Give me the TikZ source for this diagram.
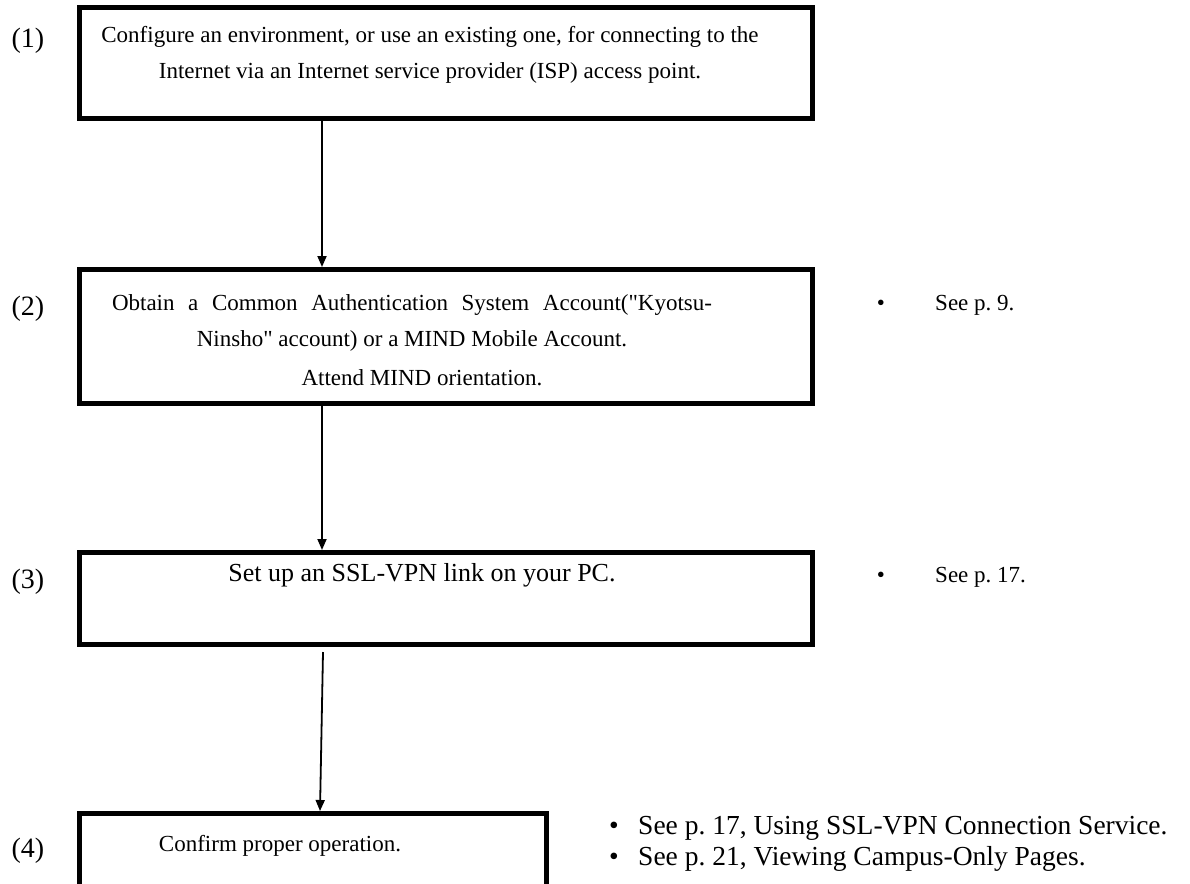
\documentclass[tikz,border=0pt]{standalone}
\usepackage{fontspec}
\setmainfont{Liberation Serif}
\newfontfamily\qfont{Liberation Serif}
\usetikzlibrary{arrows.meta}
\frenchspacing
\newcommand{\dq}{{\qfont\symbol{34}}}
\begin{document}
\begin{tikzpicture}[x=1pt,y=-1pt,
  box/.style={draw=black, line width=5pt, anchor=north west, inner sep=0pt},
  txt/.style={font=\fontsize{23}{27}\selectfont, inner sep=0pt, anchor=base},
  bigtxt/.style={font=\fontsize{26}{30}\selectfont, inner sep=0pt, anchor=base},
  note/.style={font=\fontsize{27.5}{31}\selectfont, inner sep=0pt, anchor=base west},
  num/.style={font=\fontsize{28}{32}\selectfont, inner sep=0pt, anchor=base},
  arr/.style={line width=1.8pt, -{Triangle[length=11pt,width=9pt]}}]
\path[use as bounding box, clip] (0,0) rectangle (1190,883);
\fill[white] (0,0) rectangle (1190,883);
% boxes
\node[box, minimum width=733pt, minimum height=111pt] (b1) at (77,5) {};
\node[box, minimum width=733pt, minimum height=134pt] (b2) at (77,267) {};
\node[box, minimum width=733pt, minimum height=92pt] (b3) at (77,550) {};
\node[box, minimum width=467pt, minimum height=100pt] (b4) at (77,811) {};
% step numbers
\node[num] (n1) at (28,48) {(1)};
\node[num] (n2) at (28,315) {(2)};
\node[num] (n3) at (28,588) {(3)};
\node[num] (n4) at (28,857) {(4)};
% box texts
\node[txt] (t1a) at (430,42) {Configure an environment, or use an existing one, for connecting to the};
\node[txt] (t1b) at (430,78) {Internet via an Internet service provider (ISP) access point.};
\node[txt] (t2a) at (412,310) {\makebox[600pt][s]{Obtain a Common Authentication System Account(\dq Kyotsu-}};
\node[txt] (t2b) at (412,346) {Ninsho\dq{} account) or a MIND Mobile Account.};
\node[txt] (t2c) at (422,385) {Attend MIND orientation.};
\node[bigtxt] (t3) at (422,581) {Set up an SSL-VPN link on your PC.};
\node[txt] (t4) at (280,851) {Confirm proper operation.};
% side notes
\node[txt] (d2) at (881,310) {\textbullet};
\node[txt, anchor=base west] (s2) at (935,310) {See p. 9.};
\node[txt] (d3) at (881,582) {\textbullet};
\node[txt, anchor=base west] (s3) at (935,582) {See p. 17.};
\node[note, anchor=base] (d4a) at (614,834) {\textbullet};
\node[note] (s4a) at (638,834) {See p. 17, Using SSL-VPN Connection Service.};
\node[note, anchor=base] (d4b) at (614,865) {\textbullet};
\node[note] (s4b) at (638,865) {See p. 21, Viewing Campus-Only Pages.};
% connectors
\coordinate (ax) at (322,0);
\coordinate (s3top) at (323,652);
\coordinate (e3) at (320,0);
\draw[arr] (ax |- b1.south) -- (ax |- b2.north);
\draw[arr] (ax |- b2.south) -- (ax |- b3.north);
\draw[arr] (s3top) -- (e3 |- b4.north);
\end{tikzpicture}
\end{document}
